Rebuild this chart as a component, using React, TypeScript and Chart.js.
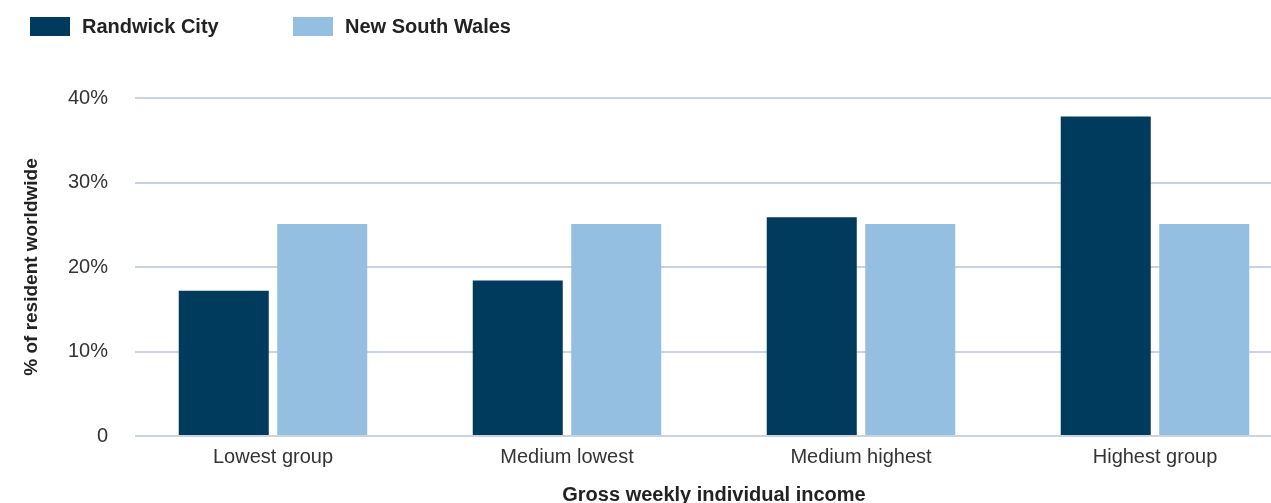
import React, { useEffect, useRef } from "react";
import { Chart, registerables } from "chart.js";

Chart.register(...registerables);

const categories = ["Lowest group", "Medium lowest", "Medium highest", "Highest group"];
const randwickValues = [17.2, 18.4, 25.9, 37.8];
const nswValues = [25.1, 25.1, 25.1, 25.1];
const seriesLabels = ["Randwick City", "New South Wales"];
const seriesColors = ["#003A5D", "#94BFE0"];
const yTickValues = [0, 10, 20, 30, 40];
const yTickLabels = ["0", "10%", "20%", "30%", "40%"];
const yAxisTitle = "% of resident worldwide";
const xAxisTitle = "Gross weekly individual income";

const FONT = "'Liberation Sans', Arial, Helvetica, sans-serif";

const legendPlugin = {
  id: "customLegend",
  afterDraw(chart: any) {
    const ctx = chart.ctx;
    const items = [
      { box: 30, text: 82 },
      { box: 293, text: 345 },
    ];
    ctx.save();
    chart.data.datasets.forEach((ds: any, i: number) => {
      const p = items[i];
      ctx.fillStyle = ds.backgroundColor;
      ctx.fillRect(p.box, 17, 40, 19);
      ctx.fillStyle = "#222222";
      ctx.font = `bold 20px ${FONT}`;
      ctx.textBaseline = "middle";
      ctx.textAlign = "left";
      ctx.fillText(ds.label, p.text, 27);
    });
    ctx.restore();
  },
};

const gridMaskPlugin = {
  id: "gridMask",
  beforeDatasetsDraw(chart: any) {
    const { ctx, chartArea } = chart;
    ctx.save();
    ctx.fillStyle = "#ffffff";
    ctx.fillRect(chartArea.left - 2, chartArea.top - 3, 11, chartArea.bottom - chartArea.top + 6);
    ctx.restore();
  },
};

export default function App() {
  const ref = useRef<HTMLCanvasElement | null>(null);

  useEffect(() => {
    if (!ref.current) return;
    const chart = new Chart(ref.current, {
      type: "bar",
      data: {
        labels: categories,
        datasets: [
          { label: seriesLabels[0], data: randwickValues, backgroundColor: seriesColors[0], borderWidth: 0 },
          { label: seriesLabels[1], data: nswValues, backgroundColor: seriesColors[1], borderWidth: 0 },
        ],
      },
      options: {
        responsive: false,
        animation: false,
        devicePixelRatio: 1,
        layout: { padding: { left: 0, right: 8, top: 98, bottom: 0 } },
        datasets: {
          bar: { categoryPercentage: 0.67, barPercentage: 0.914 },
        },
        plugins: {
          legend: { display: false },
          tooltip: { enabled: false },
          title: { display: false },
        },
        scales: {
          x: {
            grid: { display: false },
            border: { display: false },
            ticks: {
              color: "#333333",
              font: { family: FONT, size: 20 },
              padding: 1,
              maxRotation: 0,
              autoSkip: false,
            },
            title: {
              display: true,
              text: xAxisTitle,
              color: "#222222",
              font: { family: FONT, size: 20, weight: "bold" },
              padding: { top: 13, bottom: 5 },
            },
          },
          y: {
            min: 0,
            max: 40,
            afterFit: (scale: any) => {
              scale.width = 126;
            },
            afterBuildTicks: (scale: any) => {
              scale.ticks = yTickValues.map((v) => ({ value: v }));
            },
            grid: { color: "#C9D3E1", lineWidth: 2, drawTicks: false },
            border: { display: false },
            ticks: {
              color: "#333333",
              font: { family: FONT, size: 20 },
              padding: 18,
              callback: (value: any) => {
                const idx = yTickValues.indexOf(Number(value));
                return idx >= 0 ? yTickLabels[idx] : "";
              },
            },
            title: {
              display: true,
              text: yAxisTitle,
              color: "#222222",
              font: { family: FONT, size: 19, weight: "bold" },
              padding: { top: 20, bottom: 0 },
            },
          },
        },
      },
      plugins: [legendPlugin, gridMaskPlugin],
    });
    return () => chart.destroy();
  }, []);

  return (
    <div
      style={{
        position: "fixed",
        left: 0,
        top: 0,
        width: 1271,
        height: 503,
        overflow: "hidden",
        background: "#ffffff",
      }}
    >
      <canvas ref={ref} width={1310} height={512} style={{ display: "block" }} />
    </div>
  );
}
